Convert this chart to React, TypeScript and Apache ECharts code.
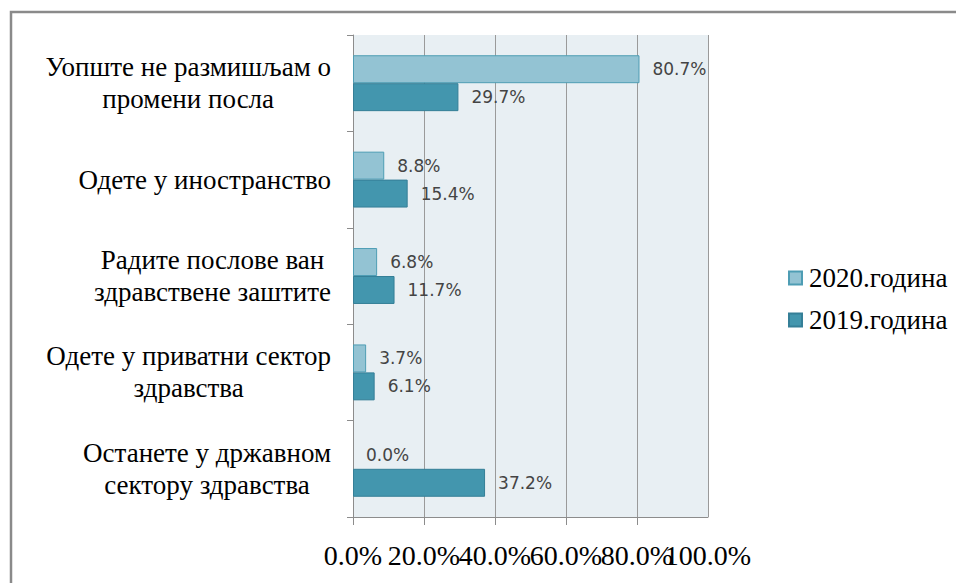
import React, { useEffect, useRef } from "react";
import * as echarts from "echarts";

const categories = [
  "Уопште не размишљам о\nпромени посла",
  "Одете у иностранство",
  "Радите послове ван\nздравствене заштите",
  "Одете у приватни сектор\nздравства",
  "Останете у државном\nсектору здравства",
];
const seriesNames = ["2020.година", "2019.година"];
const values2020 = [80.7, 8.8, 6.8, 3.7, 0.0];
const values2019 = [29.7, 15.4, 11.7, 6.1, 37.2];
const xTicks = { min: 0, max: 100, interval: 20 };

const SERIF = "'Liberation Serif', 'DejaVu Serif', serif";

export default function App() {
  const ref = useRef<HTMLDivElement>(null);
  useEffect(() => {
    if (!ref.current) return;
    const chart = echarts.init(ref.current, undefined, { renderer: "svg" });
    const labelStyle = {
      show: true,
      position: "right" as const,
      distance: 13,
      fontFamily: "DejaVu Sans",
      fontSize: 17,
      color: "#444444",
      formatter: (p: any) => Number(p.value).toFixed(1) + "%",
    };
    const toData = (arr: number[]) =>
      arr.map((v) => ({ value: v, itemStyle: { borderWidth: v === 0 ? 0 : 1 } }));
    const xLabelFont = { fontFamily: SERIF, fontSize: 28, color: "#000" };
    chart.setOption({
      animation: false,
      backgroundColor: "#ffffff",
      graphic: [
        {
          type: "rect",
          shape: { x: 11, y: 12, width: 1000, height: 700 },
          style: { fill: "none", stroke: "#8a8a8a", lineWidth: 2.5 },
          silent: true,
        },
      ],
      grid: {
        left: 353,
        top: 35,
        width: 355,
        height: 482,
        show: true,
        backgroundColor: "#E8EFF3",
        borderWidth: 0,
        containLabel: false,
      },
      legend: {
        orient: "vertical",
        left: 788,
        top: 263,
        padding: 0,
        itemWidth: 13,
        itemHeight: 13,
        itemGap: 12,
        icon: "rect",
        textStyle: {
          fontFamily: SERIF,
          fontSize: 27,
          lineHeight: 30,
          color: "#000",
          padding: [0, 0, 0, 2],
        },
        data: seriesNames,
      },
      xAxis: [
        {
          type: "value",
          position: "bottom",
          min: xTicks.min,
          max: xTicks.max,
          interval: xTicks.interval,
          axisLine: { show: true, lineStyle: { color: "#8c8c8c", width: 1 } },
          axisTick: { show: true, length: 8, lineStyle: { color: "#8c8c8c" } },
          splitLine: { show: true, lineStyle: { color: "#9a9a9a", width: 1 } },
          axisLabel: {
            margin: 24,
            showMinLabel: true,
            showMaxLabel: false,
            hideOverlap: false,
            ...xLabelFont,
            formatter: (v: number) => v.toFixed(1) + "%",
          },
        },
        {
          type: "value",
          position: "bottom",
          offset: 0,
          min: xTicks.min,
          max: xTicks.max,
          interval: xTicks.interval,
          axisLine: { show: false },
          axisTick: { show: false },
          splitLine: { show: false },
          axisLabel: {
            margin: 24,
            showMinLabel: false,
            showMaxLabel: true,
            hideOverlap: false,
            ...xLabelFont,
            formatter: (v: number) => (v === xTicks.max ? v.toFixed(1) + "%" : ""),
          },
        },
      ],
      yAxis: {
        type: "category",
        inverse: true,
        data: categories,
        axisLine: { show: true, lineStyle: { color: "#8c8c8c", width: 1 } },
        axisTick: { show: true, length: 6, lineStyle: { color: "#8c8c8c" } },
        splitLine: { show: false },
        axisLabel: {
          margin: 22,
          fontFamily: SERIF,
          fontSize: 27,
          lineHeight: 32,
          color: "#000",
          formatter: (v: string) =>
            v
              .split("\n")
              .map((l) => `{c|${l}}`)
              .join("\n"),
          rich: {
            c: {
              align: "center",
              fontFamily: SERIF,
              fontSize: 27,
              lineHeight: 32,
              color: "#000",
            },
          },
        },
      },
      series: [
        {
          name: seriesNames[0],
          type: "bar",
          xAxisIndex: 0,
          data: toData(values2020),
          barCategoryGap: "42%",
          barGap: "0%",
          itemStyle: { color: "#93C3D3", borderColor: "#4E9DB4", borderWidth: 1 },
          label: labelStyle,
        },
        {
          name: seriesNames[1],
          type: "bar",
          xAxisIndex: 0,
          data: toData(values2019),
          barCategoryGap: "42%",
          barGap: "0%",
          itemStyle: { color: "#4396AE", borderColor: "#357F97", borderWidth: 1 },
          label: labelStyle,
        },
      ],
    });
    return () => chart.dispose();
  }, []);
  return (
    <div
      ref={ref}
      style={{ position: "fixed", left: 0, top: 0, width: 956, height: 583 }}
    />
  );
}
